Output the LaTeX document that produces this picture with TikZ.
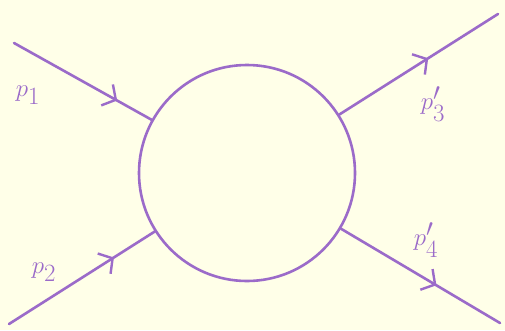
\documentclass[tikz,border=0pt]{standalone}
\usepackage{amsmath,amssymb}
\usepackage{tikz}
\usetikzlibrary{arrows.meta,positioning,decorations.markings}
\usepackage{xcolor}
\definecolor{paper}{HTML}{FFFFE8}
\definecolor{ink}{HTML}{9B6BC9}

\begin{document}
\begin{tikzpicture}[x=1pt,y=-1pt,
   leg/.style={ink,line width=2.6pt,line cap=round},
   tip/.style={postaction={decorate,decoration={markings,
     mark=at position #1 with {\arrow[ink,line width=2.4pt]{Straight Barb[length=10pt,width=24pt]}}}}},
   lab/.style={ink,font=\fontsize{33}{38}\selectfont}]
  \fill[paper] (0,0) rectangle (505,330);
  \useasboundingbox (0,0) rectangle (505,330);
  \node[draw=ink,line width=2.6pt,circle,minimum size=216pt,inner sep=0pt] (blob) at (247,173) {};
  \coordinate (in1) at (14,43);
  \coordinate (in2) at (9,324);
  \coordinate (out3) at (498,14);
  \coordinate (out4) at (500,323);
  \draw[leg,tip=0.75] (in1) -- (blob);
  \draw[leg,tip=0.72] (in2) -- (blob);
  \draw[leg,tip=0.56] (blob) -- (out3);
  \draw[leg,tip=0.6] (blob) -- (out4);
  % momenta
  \node[lab] (p1) at (28,95) {$p_1$};
  \node[lab] (p2) at (44,272) {$p_2$};
  \node[lab] (p3) at (433,104) {$p'_3$};
  \node[lab] (p4) at (426,240) {$p'_4$};
\end{tikzpicture}
\end{document}
